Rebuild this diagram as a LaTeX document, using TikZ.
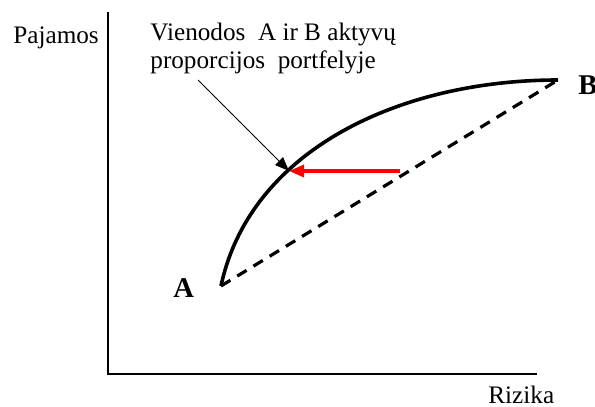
\documentclass[tikz,border=0pt]{standalone}
\usepackage{fontspec}
\setmainfont{Liberation Serif}
\usepackage{tikz}
\usetikzlibrary{arrows.meta, positioning, calc}

\begin{document}
\begin{tikzpicture}[
    x=0.5pt, y=-0.5pt,
    axisline/.style={line width=1pt, draw=black},
    frontier/.style={line width=1.8pt, draw=black},
    chord/.style={line width=1.6pt, draw=black, dash pattern=on 5.5pt off 4pt},
    shiftarrow/.style={-{Triangle[length=7.5pt, width=6pt]}, line width=1.6pt, draw=red},
    pointer/.style={-{Triangle[length=7pt, width=5.5pt]}, line width=0.5pt, draw=black},
    axislabel/.style={font=\fontsize{12.6}{14.5}\selectfont, inner sep=0pt, anchor=base west},
    pointlabel/.style={font=\fontsize{14.3}{16}\selectfont\bfseries, inner sep=0pt},
]
\useasboundingbox (0,0) rectangle (595,407);

% axes
\coordinate (origin) at (108,374);
\coordinate (ytop) at (108,12);
\coordinate (xend) at (537,374);
\draw[axisline] (ytop) -- (origin) -- (xend);
\node[axislabel] (pajamos) at (13,43) {Pajamos};
\node[axislabel] (rizika) at (488,403) {Rizika};

% portfolio points
\coordinate (A) at (221,286);
\coordinate (B) at (558,80);
\node[pointlabel, anchor=base west] (labelA) at (173,297) {A};
\node[pointlabel, anchor=base west] (labelB) at (578,94) {B};

\draw[frontier] (A) .. controls (250,150) and (400,80) .. (B);
\draw[chord] (A) -- (B);

% shift onto the curve
\coordinate (onchord) at (400,171);
\coordinate (hit) at (289,171);
\draw[shiftarrow] (onchord) -- (hit);

% note
\node[axislabel, anchor=north west, align=left, font=\fontsize{12.6}{14}\selectfont] (note) at (150,23)
    {Vienodos\ \ A ir B aktyvų\\proporcijos\ \ portfelyje};
\coordinate (notetail) at (198,80);
\draw[pointer] (notetail) -- (hit);
\end{tikzpicture}
\end{document}
